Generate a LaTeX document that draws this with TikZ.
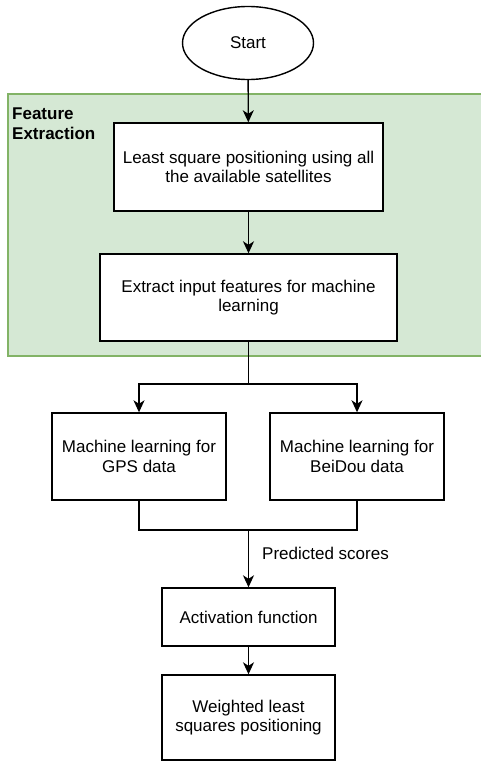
\documentclass[tikz,border=0pt]{standalone}
\usepackage{fontspec}
\setmainfont{Liberation Sans}
\usetikzlibrary{shapes.geometric, arrows.meta, positioning, calc}
\definecolor{groupfill}{HTML}{D5E8D4}
\definecolor{groupline}{HTML}{82B366}

\begin{document}
\begin{tikzpicture}[x=1pt, y=-1pt,
  box/.style={rectangle, draw, line width=1.4pt, fill=white, inner sep=0pt,
    font=\fontsize{17}{19.5}\selectfont, align=center},
  term/.style={ellipse, draw, line width=1.4pt, fill=white, inner sep=0pt,
    minimum width=131pt, minimum height=73pt, font=\fontsize{17}{19.5}\selectfont},
  arr/.style={line width=1.4pt, -{Stealth[length=12pt, width=11pt, inset=3.5pt]}},
  link/.style={line width=1.4pt},
  lbl/.style={font=\fontsize{17}{19.5}\selectfont, inner sep=2pt}]
  \useasboundingbox (0,0) rectangle (480,762);

  % feature extraction group
  \filldraw[fill=groupfill, draw=groupline, line width=1.4pt] (8,94) rectangle (484,356);
  \node[lbl, font=\fontsize{17}{20}\selectfont\bfseries, align=left, anchor=north west]
    (grp) at (10,106) {Feature\\Extraction};

  \node[term] (start) at (248,43) {Start};
  \node[box, minimum width=269pt, minimum height=88pt] (lsq)  at (248.5,167)
    {Least square positioning using all\\the available satellites};
  \node[box, minimum width=297pt, minimum height=87pt] (feat) at (248.5,297.5)
    {Extract input features for machine\\learning};
  \node[box, minimum width=174pt, minimum height=87pt] (gps)  at (139,456.5)
    {Machine learning for\\GPS data};
  \node[box, minimum width=174pt, minimum height=87pt] (bds)  at (357,456.5)
    {Machine learning for\\BeiDou data};
  \node[box, minimum width=173pt, minimum height=58pt] (act)  at (248.5,617)
    {Activation function};
  \node[box, minimum width=173pt, minimum height=85pt] (wls)  at (248.5,717.5)
    {Weighted least\\squares positioning};

  \coordinate (split) at (248.5,384);
  \coordinate (merge) at (248.5,530);

  \draw[arr] (start) -- (lsq);
  \draw[arr] (lsq) -- (feat);
  \draw[arr] (feat.south) -- (split) -| (gps.north);
  \draw[arr] (split) -| (bds.north);
  \draw[link] (gps.south) |- (merge) -| (bds.south);
  \draw[arr] (merge) -- (act.north);
  \draw[arr] (act) -- (wls);

  \node[lbl, anchor=west] (pred) at (260,553) {Predicted scores};
\end{tikzpicture}
\end{document}
